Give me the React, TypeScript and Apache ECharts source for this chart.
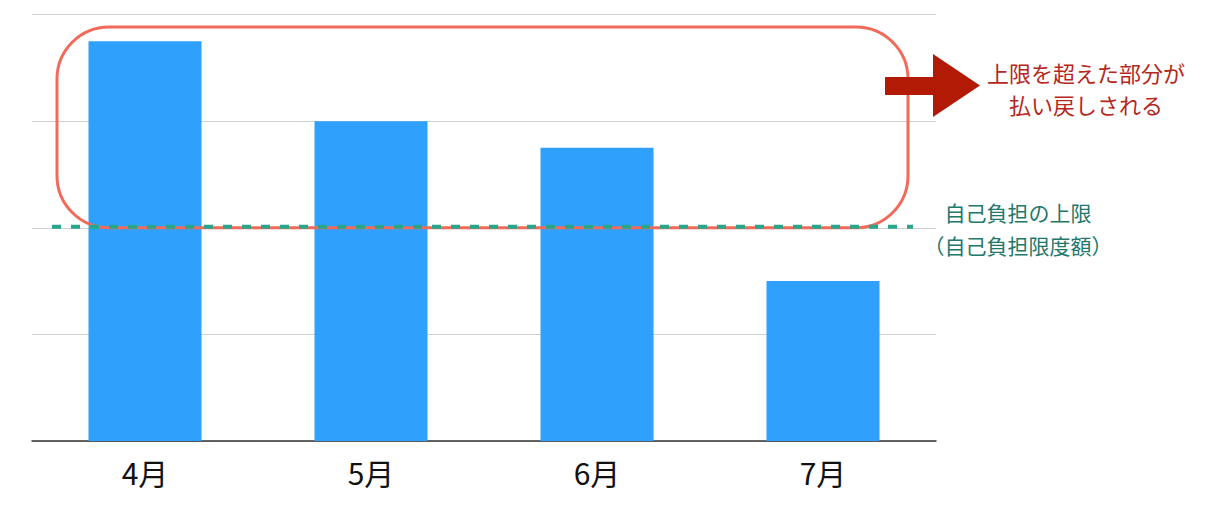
import { useEffect, useRef } from "react";
import * as echarts from "echarts";

const months = ["4月", "5月", "6月", "7月"];
const costs = [3.75, 3.0, 2.75, 1.5];
const limitValue = 2;
const yTicks = [0, 1, 2, 3, 4];
const refundNote = ["上限を超えた部分が", "払い戻しされる"];
const limitNote = ["自己負担の上限", "（自己負担限度額）"];

const FONT = '"Noto Sans CJK JP", "Noto Sans", sans-serif';

export default function App(): JSX.Element {
  const ref = useRef<HTMLDivElement | null>(null);

  useEffect(() => {
    const el = ref.current;
    if (!el) return;
    const chart = echarts.init(el, null, { renderer: "svg" });
    chart.setOption({
      animation: false,
      grid: { left: 32, right: 278, top: 14.5, bottom: 77 },
      xAxis: {
        type: "category",
        data: months,
        axisTick: { show: false },
        axisLine: { lineStyle: { color: "#333333", width: 1.5 } },
        axisLabel: { color: "#111111", fontSize: 30, fontFamily: FONT, margin: 16 },
      },
      yAxis: {
        type: "value",
        min: yTicks[0],
        max: yTicks[yTicks.length - 1],
        interval: yTicks[1] - yTicks[0],
        axisLabel: { show: false },
        axisLine: { show: false },
        axisTick: { show: false },
        splitLine: { lineStyle: { color: "#cfcfcf", width: 1 } },
      },
      series: [
        {
          type: "bar",
          data: costs,
          barWidth: "50%",
          itemStyle: { color: "#2fa0fb" },
          z: 2,
        },
      ],
    });

    // annotation layer positioned on the limit value
    const yLimit = chart.convertToPixel({ yAxisIndex: 0 }, limitValue) as number;
    const frameTop = 27;
    chart.setOption({
      graphic: [
        {
          type: "rect",
          z: 10,
          shape: { x: 57, y: frameTop, width: 851, height: yLimit - frameTop, r: 52 },
          style: { fill: "none", stroke: "#f26a5a", lineWidth: 3 },
        },
        {
          type: "line",
          z: 11,
          shape: { x1: 52, y1: yLimit - 1, x2: 913, y2: yLimit - 1 },
          style: { stroke: "#27a68b", lineWidth: 4, lineDash: [9, 10] },
        },
        {
          type: "rect",
          z: 12,
          shape: { x: 885, y: 77, width: 49, height: 18 },
          style: { fill: "#b21a06" },
        },
        {
          type: "polygon",
          z: 12,
          shape: { points: [[933, 54], [980, 85.5], [933, 117]] },
          style: { fill: "#b21a06" },
        },
        ...refundNote.map((line, i) => ({
          type: "text",
          z: 12,
          x: 1086,
          y: 72 + i * 32,
          style: {
            text: line,
            fill: "#b5281d",
            font: `22px ${FONT}`,
            textAlign: "center",
            textVerticalAlign: "middle",
          },
        })),
        ...limitNote.map((line, i) => ({
          type: "text",
          z: 12,
          x: 1018,
          y: 212 + i * 33,
          style: {
            text: line,
            fill: "#22786b",
            font: `21px ${FONT}`,
            textAlign: "center",
            textVerticalAlign: "middle",
          },
        })),
      ],
    });

    return () => {
      chart.dispose();
    };
  }, []);

  return (
    <div
      ref={ref}
      style={{ position: "fixed", left: 0, top: 0, width: 1214, height: 518, background: "#ffffff" }}
    />
  );
}
